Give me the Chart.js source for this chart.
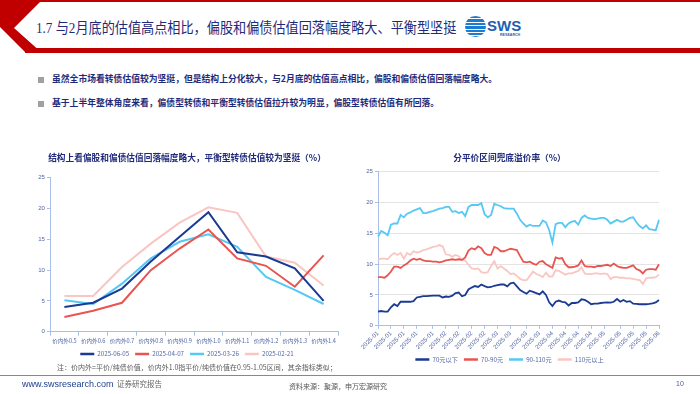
<!DOCTYPE html>
<html lang="zh">
<head>
<meta charset="UTF-8">
<title>1.7 估值高点对比</title>
<script src="https://cdn.jsdelivr.net/npm/chart.js"></script>
<style>
  body { margin: 0; width: 700px; height: 394px; position: relative; overflow: hidden; background: #fff; font-family: "Noto Sans CJK SC", sans-serif; }
  .abs { position: absolute; line-height: 1; white-space: nowrap; }
  #topline { left: 40px; top: 0; width: 660px; height: 2px; background: #c00000; }
  #band { left: 25px; top: 48px; width: 675px; height: 5px; background: #c00000; }
  #title { left: 36px; top: 20.5px; font-size: 14.6px; color: #1f2b7a; font-family: "Liberation Serif", "Noto Sans CJK SC", serif;
    transform: scaleX(0.9); transform-origin: left center; }
  #logoIcon { left: 465px; top: 16px; width: 21px; height: 21px; border-radius: 50%;
    background: repeating-linear-gradient(to bottom, #1b7cd0 0 2.4px, #fff 2.4px 3.4px); }
  #logoText { left: 487px; top: 17px; font: bold 15px "Liberation Sans", sans-serif; color: #1d5fb0; }
  #logoSub { left: 500px; top: 33px; font: bold 3.6px "Liberation Sans", sans-serif; color: #1d5fb0; }
  .sq { width: 6px; height: 6px; background: #a0a0a0; }
  .bullet { font-size: 8.8px; font-weight: bold; color: #1f2b7a; }
  #note { left: 57px; top: 363.5px; font-size: 7px; color: #595959; }
  #footline { left: 0; top: 374.5px; width: 700px; height: 1.5px; background: #2aa7e1; }
  #site { left: 22px; top: 379px; font: 9px "Liberation Sans", sans-serif; color: #1d3f8f; }
  #kind { left: 117px; top: 379.5px; font-size: 7.5px; color: #666; }
  #source { left: 289px; top: 382.5px; font-size: 7px; color: #555; }
  #page { left: 676px; top: 379.5px; font: 7px "Liberation Sans", sans-serif; color: #4a5a9a; }
  #leftBox { left: 36px; top: 145px; width: 318px; height: 225px; }
  #rightBox { left: 360px; top: 145px; width: 314px; height: 230px; }
</style>
</head>
<body>
<div class="abs" id="topline"></div>
<div class="abs" id="band"></div>
<svg class="abs" style="left:0;top:0" width="45" height="53">
  <polygon points="0,0 42,0 14,28 42,53 26,53 0,27" fill="#c00000"/>
</svg>
<div class="abs" id="title">1.7 与2月底的估值高点相比，偏股和偏债估值回落幅度略大、平衡型坚挺</div>
<div class="abs" id="logoIcon"></div>
<div class="abs" id="logoText">SWS</div>
<div class="abs" id="logoSub">RESEARCH</div>

<div class="abs sq" style="left:38px;top:76.5px"></div>
<div class="abs bullet" style="left:52px;top:75px">虽然全市场看转债估值较为坚挺，但是结构上分化较大，与2月底的估值高点相比，偏股和偏债估值回落幅度略大。</div>
<div class="abs sq" style="left:38px;top:100.5px"></div>
<div class="abs bullet" style="left:52px;top:99px">基于上半年整体角度来看，偏债型转债和平衡型转债估值拉升较为明显，偏股型转债估值有所回落。</div>

<div class="abs" id="leftBox"><canvas id="leftChart"></canvas></div>
<div class="abs" id="rightBox"><canvas id="rightChart"></canvas></div>

<div class="abs" id="note">注：价内外=平价/纯债价值，价内外1.0指平价/纯债价值在0.95-1.05区间，其余指标类似；</div>
<div class="abs" id="footline"></div>
<div class="abs" id="site">www.swsresearch.com</div>
<div class="abs" id="kind">证券研究报告</div>
<div class="abs" id="source">资料来源：聚源，申万宏源研究</div>
<div class="abs" id="page">10</div>

<script>
// left chart: premium by parity bucket on four dates
var parityBuckets = ['价内外0.5', '价内外0.6', '价内外0.7', '价内外0.8', '价内外0.9', '价内外1.0', '价内外1.1', '价内外1.2', '价内外1.3', '价内外1.4'];
var snapDates = ['2025-06-05', '2025-04-07', '2025-03-26', '2025-02-21'];
var snap0605 = [4.0, 4.7, 7.0, 11.4, 15.4, 19.4, 12.9, 12.2, 10.3, 5.0];
var snap0407 = [2.4, 3.4, 4.7, 10.0, 13.5, 16.6, 11.9, 10.7, 7.3, 12.4];
var snap0326 = [5.1, 4.5, 7.8, 11.9, 14.6, 15.8, 13.8, 8.9, 6.8, 4.5];
var snap0221 = [5.8, 5.8, 10.5, 14.3, 17.7, 20.2, 19.3, 12.2, 11.2, 7.5];

// right chart: bond-floor premium by price band, daily
var priceBands = ['70元以下', '70-90元', '90-110元', '110元以上'];
var monthNames = ['2025-01', '2025-02', '2025-03', '2025-04', '2025-05', '2025-06'];
var daysPerMonth = [20, 16, 16, 16, 19, 1];
var below70 = [2.3, 2.4, 2.3, 2.3, 3.0, 3.5, 3.2, 3.9, 3.9, 3.9, 3.9, 4.0, 4.6, 4.7, 4.8, 4.8, 4.85, 4.9, 4.9, 4.9,
  4.6, 4.75, 4.7, 4.9, 5.3, 5.4, 4.8, 5.0, 5.9, 6.2, 6.45, 6.3, 6.7, 6.45, 6.25, 6.3,
  6.5, 6.6, 6.7, 6.7, 6.4, 6.9, 7.0, 6.4, 5.8, 5.5, 5.2, 5.7, 5.5, 5.3, 5.1, 5.6,
  5.0, 3.8, 3.2, 3.9, 4.1, 3.9, 3.8, 3.3, 3.7, 3.7, 3.8, 4.3, 4.2, 3.9, 3.5, 3.6,
  3.6, 3.7, 3.75, 3.8, 3.75, 3.9, 4.35, 3.9, 4.2, 3.9, 4.0, 3.6, 3.55, 3.5, 3.5, 3.5, 3.55, 3.65, 3.8,
  4.2];
var from70to90 = [7.9, 7.9, 7.8, 8.2, 8.8, 9.6, 9.6, 9.4, 9.8, 10.1, 10.6, 10.9, 10.7, 10.9, 10.6, 10.5, 10.5, 10.4, 10.4, 10.3,
  10.4, 10.6, 10.7, 10.8, 10.7, 10.8, 10.7, 11.1, 12.2, 12.6, 12.4, 12.9, 12.6, 11.8, 11.5, 11.5,
  12.8, 12.6, 12.1, 12.1, 12.3, 12.5, 12.4, 12.3, 11.3, 10.4, 10.3, 10.4, 10.1, 9.9, 10.4, 10.5,
  10.0, 9.7, 9.4, 11.1, 10.9, 11.0, 10.0, 9.5, 9.5, 9.6, 9.8, 10.6, 9.7, 9.6, 9.6, 9.5,
  9.7, 9.7, 9.8, 9.9, 9.7, 10.1, 9.7, 9.5, 9.4, 9.4, 9.6, 9.8, 9.2, 9.0, 8.5, 9.1, 9.2, 9.2, 9.1,
  10.0];
var from90to110 = [14.5, 15.4, 15.1, 14.7, 16.4, 16.6, 16.6, 18.0, 17.6, 18.2, 18.4, 18.7, 18.9, 19.1, 18.3, 18.3, 18.5, 18.6, 18.8, 19.0,
  19.1, 19.3, 19.3, 18.5, 18.6, 18.3, 18.5, 17.8, 19.3, 19.6, 19.6, 19.6, 19.9, 18.1, 17.6, 18.0,
  19.8, 19.6, 19.4, 19.1, 19.0, 19.0, 19.0, 18.2, 17.2, 16.6, 16.1, 16.4, 16.2, 16.2, 16.2, 17.1,
  16.8, 15.5, 13.5, 16.5, 16.7, 16.7, 16.0, 16.6, 16.9, 17.0, 16.4, 17.5, 17.9, 17.5, 17.4, 17.3,
  17.4, 17.5, 17.5, 17.2, 16.6, 16.9, 17.2, 16.9, 16.9, 17.2, 17.5, 17.6, 16.8, 16.2, 15.8, 16.3, 15.7, 15.6, 15.5,
  17.2];
var above110 = [10.7, 10.9, 10.9, 10.8, 11.4, 11.8, 11.5, 11.8, 10.9, 11.8, 11.5, 12.1, 11.9, 12.0, 12.3, 12.4, 12.6, 12.8, 12.9, 13.1,
  12.9, 11.6, 11.5, 11.2, 11.5, 11.3, 10.7, 10.6, 9.9, 9.3, 9.2, 9.3, 8.7, 8.6, 8.7, 9.7,
  10.5, 9.3, 9.7, 9.3, 8.9, 8.4, 8.5, 8.1, 7.6, 7.4, 7.4, 8.1, 8.8, 8.4, 8.2, 7.9,
  8.6, 8.0, 8.0, 9.0, 8.9, 8.6, 8.3, 8.5, 8.5, 8.7, 8.9, 9.5, 8.5, 8.4, 8.4, 8.5,
  8.5, 8.4, 8.5, 8.4, 7.6, 7.9, 7.9, 7.8, 7.8, 7.7, 7.7, 7.6, 7.5, 7.4, 6.8, 7.7, 7.8, 7.8, 7.9,
  8.3];

var NAVY = '#1a3a93', RED = '#e8544f', CYAN = '#55c8f5', PINK = '#f9c6c3';
var AXIS = '#a9bfe8', TICK = '#5366a3', INK = '#1f2b7a';
var CJK = '"Noto Sans CJK SC", sans-serif';

Chart.defaults.font.family = '"Liberation Sans", "Noto Sans CJK SC", sans-serif';
Chart.defaults.animation = false;

// legend swatches as flat bars without outline
function flatLegend(chart) {
    return Chart.defaults.plugins.legend.labels.generateLabels(chart).map(function (l) {
        l.lineWidth = 0;
        l.fillStyle = l.strokeStyle;
        return l;
    });
}

var legendOpts = {
    position: 'bottom',
    labels: { boxWidth: 14, boxHeight: 2.5, padding: 6, color: TICK, font: { size: 6.2, family: CJK }, generateLabels: flatLegend }
};

new Chart(document.getElementById('leftChart'), {
    type: 'line',
    data: {
        labels: parityBuckets,
        datasets: [
            { label: snapDates[0], data: snap0605, borderColor: NAVY, backgroundColor: NAVY },
            { label: snapDates[1], data: snap0407, borderColor: RED, backgroundColor: RED },
            { label: snapDates[2], data: snap0326, borderColor: CYAN, backgroundColor: CYAN },
            { label: snapDates[3], data: snap0221, borderColor: PINK, backgroundColor: PINK }
        ]
    },
    options: {
        responsive: true,
        maintainAspectRatio: false,
        layout: { padding: { left: 0, right: 16, top: 0, bottom: 2.9 } },
        elements: { point: { radius: 0 }, line: { borderWidth: 2, tension: 0 } },
        plugins: {
            title: { display: true, text: '结构上看偏股和偏债估值回落幅度略大，平衡型转债估值较为坚挺（%）', color: INK,
                     font: { size: 8.7, weight: 'bold', family: CJK }, padding: { top: 7.8, bottom: 14.5 } },
            legend: legendOpts,
            tooltip: { enabled: false }
        },
        scales: {
            x: {
                offset: true,
                grid: { offset: true, drawOnChartArea: false, color: AXIS, tickLength: 4 },
                border: { color: AXIS },
                ticks: { color: TICK, font: { size: 5.6, family: CJK }, padding: 2, maxRotation: 0, autoSkip: false },
                afterFit: function (s) { s.height = 13.2; }
            },
            y: {
                min: 0, max: 25,
                grid: { drawOnChartArea: false, color: AXIS, tickLength: 3 },
                border: { color: AXIS },
                ticks: { stepSize: 5, color: TICK, font: { size: 6.1 }, padding: 2 },
                afterFit: function (s) { s.width = 14; }
            }
        }
    }
});

var dayLabels = [];
monthNames.forEach(function (m, i) {
    for (var d = 0; d < daysPerMonth[i]; d++) dayLabels.push(m);
});
var lastIdx = dayLabels.length - 1;
var shownTicks = [];
for (var k = 0; k <= 21; k++) shownTicks.push(Math.round(k * lastIdx / 21));

new Chart(document.getElementById('rightChart'), {
    type: 'line',
    data: {
        labels: dayLabels,
        datasets: [
            { label: priceBands[0], data: below70, borderColor: NAVY, backgroundColor: NAVY },
            { label: priceBands[1], data: from70to90, borderColor: RED, backgroundColor: RED },
            { label: priceBands[2], data: from90to110, borderColor: CYAN, backgroundColor: CYAN },
            { label: priceBands[3], data: above110, borderColor: PINK, backgroundColor: PINK }
        ]
    },
    options: {
        responsive: true,
        maintainAspectRatio: false,
        layout: { padding: { left: 0, right: 15, top: 0, bottom: 2.5 } },
        elements: { point: { radius: 0 }, line: { borderWidth: 1.8, tension: 0 } },
        plugins: {
            title: { display: true, text: '分平价区间兜底溢价率（%）', color: INK,
                     font: { size: 8.7, weight: 'bold', family: CJK }, padding: { top: 7.8, bottom: 8.5 } },
            legend: legendOpts,
            tooltip: { enabled: false }
        },
        scales: {
            x: {
                grid: { drawOnChartArea: false, color: AXIS, tickLength: 3 },
                border: { color: AXIS },
                ticks: { color: TICK, font: { size: 6.1 }, padding: 1, minRotation: 45, maxRotation: 45, autoSkip: false },
                afterBuildTicks: function (s) {
                    s.ticks = s.ticks.filter(function (t) { return shownTicks.indexOf(t.value) >= 0; });
                },
                afterFit: function (s) { s.height = 24.5; }
            },
            y: {
                min: 0, max: 25,
                grid: { color: '#e4e4e4', tickColor: AXIS, tickLength: 3 },
                border: { color: AXIS },
                ticks: { stepSize: 5, color: TICK, font: { size: 6.1 }, padding: 2 },
                afterFit: function (s) { s.width = 18; }
            }
        }
    }
});
</script>
</body>
</html>
